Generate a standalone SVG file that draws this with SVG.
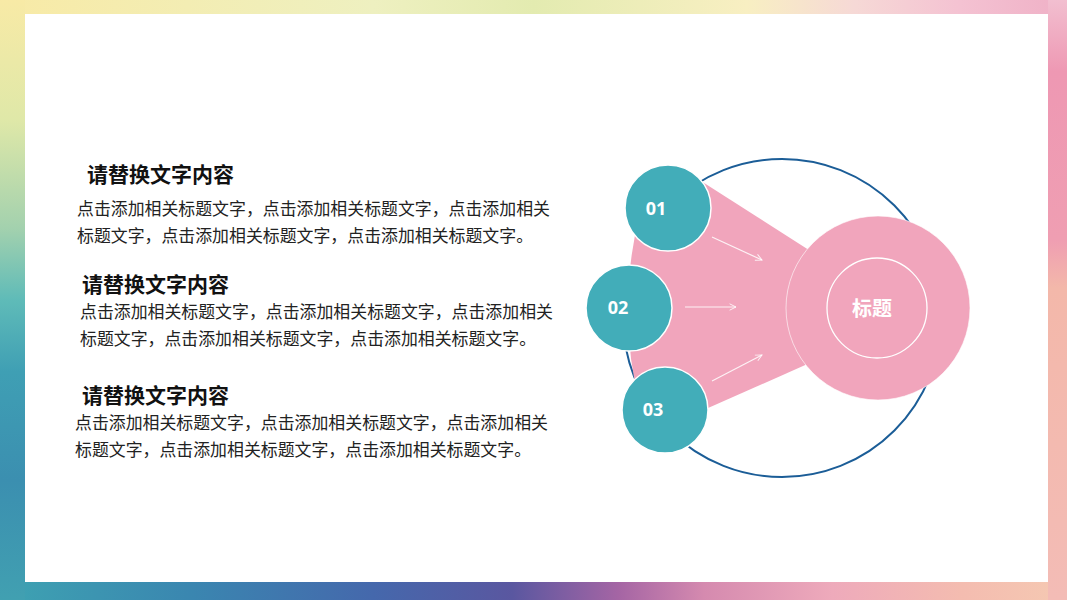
<svg xmlns="http://www.w3.org/2000/svg" width="1067" height="600" viewBox="0 0 1067 600">
<defs>
<linearGradient id="gTop" x1="0" y1="0" x2="1" y2="0">
<stop offset="0" stop-color="#f8eaa6"/><stop offset="0.35" stop-color="#eef0c0"/><stop offset="0.5" stop-color="#e3ebb0"/><stop offset="0.7" stop-color="#f8efc2"/><stop offset="0.8" stop-color="#f6d9d6"/><stop offset="0.9" stop-color="#f4c2d2"/><stop offset="1" stop-color="#efb0c6"/>
</linearGradient>
<linearGradient id="gLeft" x1="0" y1="0" x2="0" y2="1">
<stop offset="0" stop-color="#f8eaa6"/><stop offset="0.2" stop-color="#dfe8a8"/><stop offset="0.38" stop-color="#a3d1ae"/><stop offset="0.5" stop-color="#5fbbb8"/><stop offset="0.62" stop-color="#3f9fb4"/><stop offset="0.8" stop-color="#3b8fb0"/><stop offset="1" stop-color="#41a0b1"/>
</linearGradient>
<linearGradient id="gBottom" x1="0" y1="0" x2="1" y2="0">
<stop offset="0" stop-color="#3ea3b2"/><stop offset="0.18" stop-color="#3a86b0"/><stop offset="0.35" stop-color="#4568ac"/><stop offset="0.48" stop-color="#5a57a0"/><stop offset="0.58" stop-color="#a565a4"/><stop offset="0.66" stop-color="#d58aaf"/><stop offset="0.78" stop-color="#eeaabb"/><stop offset="0.9" stop-color="#f4bcb0"/><stop offset="1" stop-color="#f5c9b2"/>
</linearGradient>
<linearGradient id="gRight" x1="0" y1="0" x2="0" y2="1">
<stop offset="0" stop-color="#f2bfd0"/><stop offset="0.12" stop-color="#ee98b3"/><stop offset="0.4" stop-color="#ef9eb2"/><stop offset="0.48" stop-color="#f3b8aa"/><stop offset="1" stop-color="#f3bcb6"/>
</linearGradient>
<marker id="arr" viewBox="0 0 10 10" refX="9" refY="5" markerWidth="8" markerHeight="8" orient="auto" markerUnits="userSpaceOnUse">
<path d="M1,1 L9,5 L1,9" fill="none" stroke="#ffffff" stroke-opacity="0.85" stroke-width="1.2"/>
</marker>
</defs>
<style>
.h{font-family:"Noto Sans CJK SC","Noto Sans",sans-serif;font-weight:bold;font-size:21px;fill:#111111}
.b{font-family:"Noto Sans CJK SC","Noto Sans",sans-serif;font-size:16.9px;fill:#222222}
.teal{fill:#42adb9;stroke:#ffffff;stroke-width:1.5}
.num{font-family:"Noto Sans","DejaVu Sans",sans-serif;font-weight:bold;font-size:18px;fill:#ffffff;text-anchor:middle}
.pink{fill:#f1a5bc}
.conn{stroke:#ffffff;stroke-opacity:0.85;stroke-width:1.2;fill:none;marker-end:url(#arr)}
</style>
<rect x="0" y="0" width="1067" height="600" fill="#f0c8c8"/>
<rect x="0" y="0" width="1067" height="14" fill="url(#gTop)"/>
<rect x="0" y="582" width="1067" height="18" fill="url(#gBottom)"/>
<rect x="0" y="0" width="25" height="600" fill="url(#gLeft)"/>
<rect x="1048" y="0" width="19" height="600" fill="url(#gRight)"/>
<rect x="25" y="14" width="1023" height="568" fill="#ffffff"/>

<g id="text-block-1">
<text class="h" x="87" y="182">请替换文字内容</text>
<text class="b" x="77" y="215">点击添加相关标题文字，点击添加相关标题文字，点击添加相关</text>
<text class="b" x="77" y="242">标题文字，点击添加相关标题文字，点击添加相关标题文字。</text>
</g>
<g id="text-block-2">
<text class="h" x="82" y="292">请替换文字内容</text>
<text class="b" x="80" y="318">点击添加相关标题文字，点击添加相关标题文字，点击添加相关</text>
<text class="b" x="80" y="345">标题文字，点击添加相关标题文字，点击添加相关标题文字。</text>
</g>
<g id="text-block-3">
<text class="h" x="82" y="403">请替换文字内容</text>
<text class="b" x="75" y="429">点击添加相关标题文字，点击添加相关标题文字，点击添加相关</text>
<text class="b" x="75" y="456">标题文字，点击添加相关标题文字，点击添加相关标题文字。</text>
</g>

<g id="outer-ring">
<circle cx="782" cy="318" r="159" fill="none" stroke="#1b5d97" stroke-width="2"/>
</g>
<g id="fan">
<path class="pink" d="M690,174 L812,252 L812,362 L690,416 L640,404 Q628,360 628,310 Q628,258 640,214 Z"/>
</g>
<g id="node-title">
<circle class="pink" cx="878" cy="308" r="92" stroke="#ffffff" stroke-opacity="0.6" stroke-width="1"/>
<circle cx="877" cy="308" r="50" fill="none" stroke="#ffffff" stroke-width="1.3"/>
<text x="872" y="316" text-anchor="middle" font-family="'Noto Sans CJK SC',sans-serif" font-weight="bold" font-size="20" fill="#ffffff">标题</text>
</g>
<g id="connectors">
<line class="conn" x1="712" y1="237" x2="762" y2="260"/>
<line class="conn" x1="685" y1="307" x2="736" y2="307"/>
<line class="conn" x1="712" y1="381" x2="762" y2="355"/>
</g>
<g id="node-01">
<circle class="teal" cx="668" cy="208" r="43"/>
<text class="num" x="656" y="215">01</text>
</g>
<g id="node-02">
<circle class="teal" cx="629" cy="308" r="43"/>
<text class="num" x="618" y="314">02</text>
</g>
<g id="node-03">
<circle class="teal" cx="665" cy="410" r="43"/>
<text class="num" x="653" y="416">03</text>
</g>
</svg>
